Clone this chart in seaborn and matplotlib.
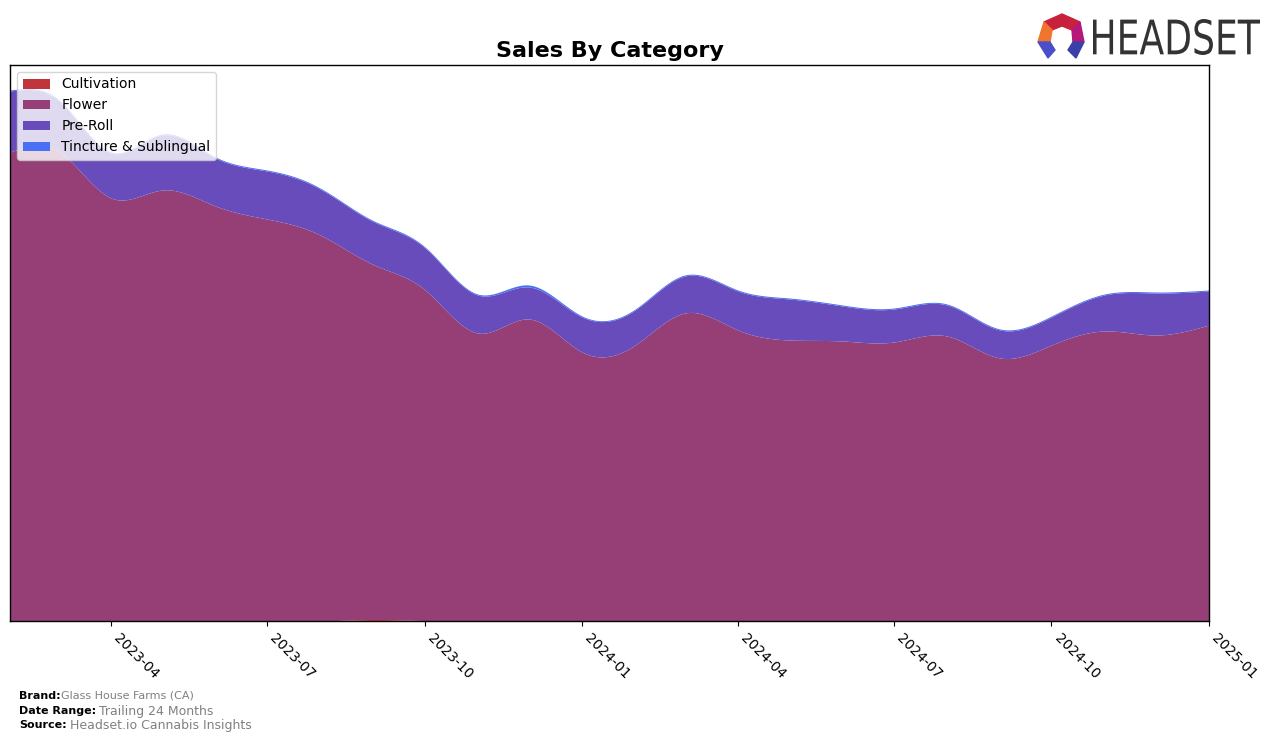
import matplotlib
matplotlib.use("Agg")
import matplotlib.pyplot as plt
import matplotlib.dates as mdates
from matplotlib.patches import Polygon, PathPatch
from matplotlib.textpath import TextPath
from matplotlib.font_manager import FontProperties
from matplotlib.transforms import Affine2D, IdentityTransform
import numpy as np
import pandas as pd
import seaborn as sns

# monthly sales (arbitrary units)
months = pd.date_range("2023-02-01", "2025-01-01", freq="MS")
cultivation = [0, 0, 0, 0, 0, 0, 0, 1.5, 0.5, 0, 0, 0,
               0, 0, 0, 0, 0, 0, 0, 0, 0, 0, 0, 0]
flower = [469, 470, 423, 431, 415, 402, 386, 355, 331, 288, 302, 269,
          276, 308, 291, 281, 280, 279, 285, 263, 276, 290, 286, 296]
pre_roll = [61, 51, 45, 55, 48, 48, 46, 43, 42, 38, 32, 35,
            35, 37, 39, 41, 35, 33, 31, 28, 28, 36, 42, 34]
tincture = [1, 1, 1, 1, 1, 1, 1, 1, 1, 1, 2, 1,
            1, 1, 1, 1, 1, 1, 1, 1, 1, 1, 1, 1]

categories = ["Cultivation", "Flower", "Pre-Roll", "Tincture & Sublingual"]
colors = ["#c0353a", "#953f76", "#684cbb", "#4a70f5"]


def smooth(xn, yn, xs):
    # natural cubic spline through the monthly values
    yn = np.asarray(yn, dtype=float)
    n = len(xn)
    h = np.diff(xn)
    A = np.zeros((n, n))
    b = np.zeros(n)
    A[0, 0] = 1
    A[-1, -1] = 1
    for i in range(1, n - 1):
        A[i, i - 1] = h[i - 1]
        A[i, i] = 2 * (h[i - 1] + h[i])
        A[i, i + 1] = h[i]
        b[i] = 3 * ((yn[i + 1] - yn[i]) / h[i] - (yn[i] - yn[i - 1]) / h[i - 1])
    c = np.linalg.solve(A, b)
    bc = (yn[1:] - yn[:-1]) / h - h * (2 * c[:-1] + c[1:]) / 3
    d = (c[1:] - c[:-1]) / (3 * h)
    idx = np.clip(np.searchsorted(xn, xs) - 1, 0, n - 2)
    dx = xs - xn[idx]
    out = yn[idx] + bc[idx] * dx + c[idx] * dx ** 2 + d[idx] * dx ** 3
    return np.clip(out, 0, None)


sns.set_style("ticks", {"text.color": "black", "axes.labelcolor": "black",
                        "xtick.color": "black", "axes.edgecolor": "black"})
plt.rcParams["font.family"] = ["DejaVu Sans"]

xn = mdates.date2num(months)
xs = np.linspace(xn[0], xn[-1], 800)
layers = [smooth(xn, s, xs) for s in [cultivation, flower, pre_roll, tincture]]

fig = plt.figure(figsize=(12.76, 7.41), dpi=100)
ax = fig.add_axes([10 / 1276, 1 - 621 / 741, 1199 / 1276, 556 / 741])

ax.stackplot(xs, *layers, labels=categories, colors=colors, linewidth=0)
ax.set_xlim(xn[0], xn[-1])
ax.set_ylim(0, 556)

ax.xaxis.set_major_locator(mdates.MonthLocator(bymonth=[1, 4, 7, 10]))
ax.xaxis.set_major_formatter(mdates.DateFormatter("%Y-%m"))
plt.setp(ax.get_xticklabels(), rotation=-45, ha="left", fontsize=10, color="black")
ax.tick_params(axis="x", colors="black", length=3.5)
ax.set_yticks([])
for sp in ax.spines.values():
    sp.set_color("black")
    sp.set_linewidth(1)

ax.set_title("Sales By Category", fontsize=16, fontweight="bold", pad=6, color="black")
leg = ax.legend(loc="upper left", fontsize=10)
for t in leg.get_texts():
    t.set_color("black")

# footer
fig.text(19 / 1276, 1 - 696 / 741, "Brand:", fontsize=8, fontweight="bold", va="center")
fig.text(61 / 1276, 1 - 696 / 741, "Glass House Farms (CA)", fontsize=8, color="gray", va="center")
fig.text(19 / 1276, 1 - 711 / 741, "Date Range:", fontsize=8, fontweight="bold", va="center")
fig.text(99 / 1276, 1 - 711 / 741, "Trailing 24 Months", fontsize=9, color="gray", va="center")
fig.text(19 / 1276, 1 - 725 / 741, "Source:", fontsize=8, fontweight="bold", va="center")
fig.text(70 / 1276, 1 - 725 / 741, "Headset.io Cannabis Insights", fontsize=9, color="gray", va="center")

# logo: word squeezed into its box, plus a rough version of the mark
tp = TextPath((0, 0), "HEADSET", size=1, prop=FontProperties(family="DejaVu Sans"))
ext = tp.get_extents()
sx = (1260 - 1093) / ext.width
sy = (55 - 19) / ext.height
word_tf = Affine2D().translate(-ext.x0, -ext.y0).scale(sx, sy).translate(1093, 741 - 55)
fig.patches.append(PathPatch(tp, facecolor="#333333", edgecolor="none",
                             transform=word_tf + IdentityTransform()))
logo_parts = [
    ([(1044, 22), (1062, 14), (1080, 22), (1072, 30), (1062, 26), (1052, 30)], "#c8213b"),
    ([(1044, 22), (1052, 30), (1050, 42), (1038, 42)], "#f0742b"),
    ([(1080, 22), (1084, 42), (1073, 42), (1072, 30)], "#b5177a"),
    ([(1038, 42), (1050, 42), (1055, 50), (1048, 58)], "#4a4fc9"),
    ([(1073, 42), (1084, 42), (1076, 58), (1068, 50)], "#3b3fa8"),
]
for pts, col in logo_parts:
    fig.patches.append(Polygon([(px / 1276, 1 - py / 741) for px, py in pts],
                               closed=True, color=col, transform=fig.transFigure))

fig.savefig("out.png", dpi=100)
